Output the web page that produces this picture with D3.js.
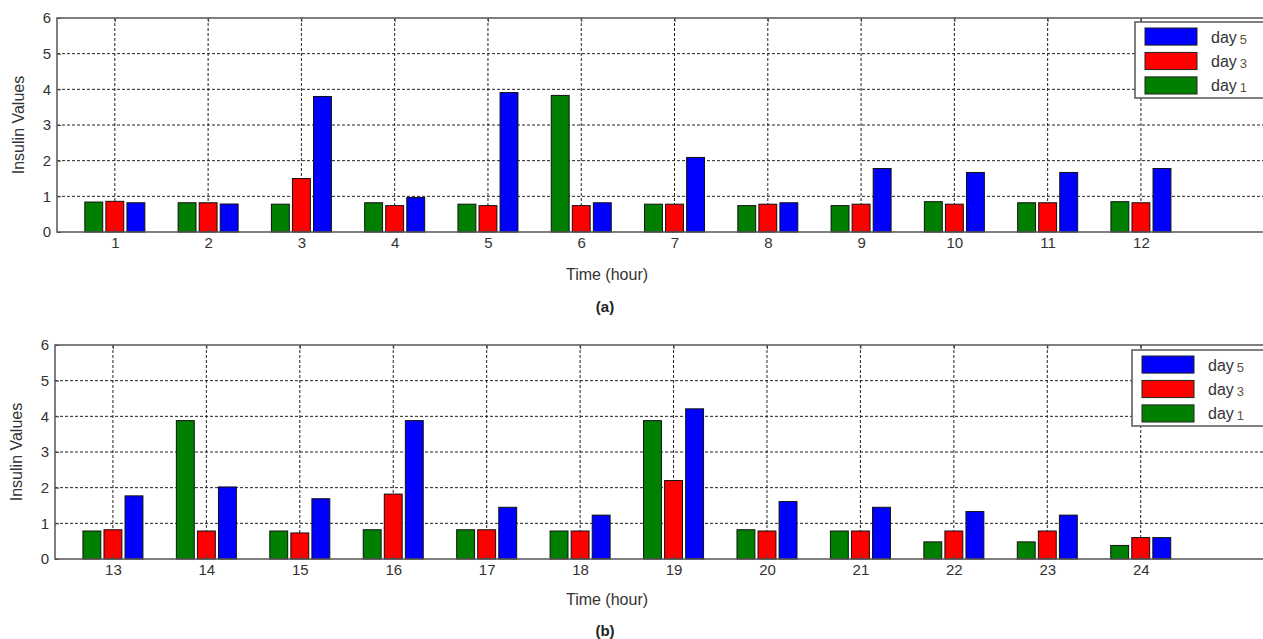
<!DOCTYPE html>
<html>
<head>
<meta charset="utf-8">
<script src="https://cdn.jsdelivr.net/npm/d3@7"></script>
<style>
body { margin: 0; background: #fff; }
svg { font-family: "Liberation Sans", Arial, sans-serif; }
</style>
</head>
<body>
<svg width="1263" height="639"></svg>
<script>
// insulin values
var hoursA = [1, 2, 3, 4, 5, 6, 7, 8, 9, 10, 11, 12];
var day1A = [0.84, 0.82, 0.78, 0.82, 0.78, 3.83, 0.78, 0.74, 0.74, 0.85, 0.82, 0.85];
var day3A = [0.86, 0.82, 1.50, 0.74, 0.74, 0.74, 0.78, 0.78, 0.78, 0.78, 0.82, 0.82];
var day5A = [0.82, 0.785, 3.80, 0.97, 3.91, 0.82, 2.09, 0.82, 1.78, 1.67, 1.67, 1.78];

var hoursB = [13, 14, 15, 16, 17, 18, 19, 20, 21, 22, 23, 24];
var day1B = [0.785, 3.88, 0.785, 0.82, 0.82, 0.785, 3.88, 0.82, 0.785, 0.48, 0.48, 0.38];
var day3B = [0.82, 0.785, 0.73, 1.82, 0.82, 0.785, 2.20, 0.785, 0.785, 0.785, 0.785, 0.60];
var day5B = [1.77, 2.02, 1.69, 3.88, 1.45, 1.23, 4.21, 1.61, 1.45, 1.33, 1.23, 0.60];

var yTicks = [0, 1, 2, 3, 4, 5, 6];
var seriesNames = ["day1", "day3", "day5"];
var seriesColors = {day1: "#007f00", day3: "#ff0000", day5: "#0000ff"};

var svg = d3.select("svg");

function panel(opt) {
  var hours = opt.hours;
  var x = d3.scaleLinear()
    .domain([hours[0] - 0.62, hours[0] + 12.33])
    .range([opt.left, 1265]);
  var y = d3.scaleLinear().domain([0, 6]).range([opt.bottom, opt.top]);
  var inner = d3.scaleBand().domain(seriesNames).range([-30, 30]).paddingInner(0.15);

  var g = svg.append("g");

  // grid
  g.selectAll(".hgrid")
    .data([1, 2, 3, 4, 5])
    .enter().append("line")
    .attr("x1", opt.left).attr("x2", 1265)
    .attr("y1", function (d) { return y(d); })
    .attr("y2", function (d) { return y(d); })
    .attr("stroke", "#222").attr("stroke-width", 1)
    .attr("stroke-dasharray", "3,2");
  g.selectAll(".vgrid")
    .data(hours)
    .enter().append("line")
    .attr("x1", function (d) { return x(d); })
    .attr("x2", function (d) { return x(d); })
    .attr("y1", opt.top).attr("y2", opt.bottom)
    .attr("stroke", "#222").attr("stroke-width", 1)
    .attr("stroke-dasharray", "3,2");

  // bars
  var rows = hours.map(function (h, i) {
    return {hour: h, day1: opt.d1[i], day3: opt.d3[i], day5: opt.d5[i]};
  });
  var grp = g.selectAll(".grp")
    .data(rows)
    .enter().append("g")
    .attr("transform", function (d) { return "translate(" + x(d.hour) + ",0)"; });
  grp.selectAll("rect")
    .data(function (d) { return seriesNames.map(function (k) { return {key: k, value: d[k]}; }); })
    .enter().append("rect")
    .attr("x", function (d) { return inner(d.key); })
    .attr("width", inner.bandwidth())
    .attr("y", function (d) { return y(d.value); })
    .attr("height", function (d) { return opt.bottom - y(d.value); })
    .attr("fill", function (d) { return seriesColors[d.key]; })
    .attr("stroke", "#111")
    .attr("stroke-width", 1);

  // axes
  var xa = g.append("g")
    .attr("transform", "translate(0," + opt.bottom + ")")
    .call(d3.axisBottom(x).tickValues(hours).tickFormat(d3.format("d")).tickSize(-4).tickPadding(5))
    .attr("font-family", null).attr("font-size", null);
  xa.select(".domain").remove();
  xa.selectAll("text").attr("font-size", "15px").attr("fill", "#333");
  xa.selectAll("line").attr("stroke", "#444");

  var xt = g.append("g")
    .attr("transform", "translate(0," + opt.top + ")")
    .call(d3.axisTop(x).tickValues(hours).tickFormat("").tickSize(-4));
  xt.select(".domain").remove();
  xt.selectAll("line").attr("stroke", "#444");

  var ya = g.append("g")
    .attr("transform", "translate(" + opt.left + ",0)")
    .call(d3.axisLeft(y).tickValues(yTicks).tickFormat(d3.format("d")).tickSize(-4).tickPadding(6))
    .attr("font-family", null).attr("font-size", null);
  ya.select(".domain").remove();
  ya.selectAll("text").attr("font-size", "15px").attr("fill", "#333");
  ya.selectAll("line").attr("stroke", "#444");

  // frame
  g.append("path")
    .attr("d", "M1265," + opt.top + "H" + opt.left + "V" + opt.bottom + "H1265")
    .attr("fill", "none").attr("stroke", "#555").attr("stroke-width", 1.5);

  // labels
  g.append("text")
    .attr("transform", "translate(" + (opt.left - 33) + "," + ((opt.top + opt.bottom) / 2) + ") rotate(-90)")
    .attr("text-anchor", "middle")
    .attr("font-size", "16px").attr("fill", "#333")
    .text("Insulin Values");
  g.append("text")
    .attr("x", 607).attr("y", opt.bottom + opt.xlabelDy)
    .attr("text-anchor", "middle")
    .attr("font-size", "16px").attr("fill", "#333")
    .text("Time (hour)");
  g.append("text")
    .attr("x", 605).attr("y", opt.bottom + opt.tagDy)
    .attr("text-anchor", "middle")
    .attr("font-size", "15px").attr("font-weight", "bold").attr("fill", "#222")
    .text(opt.tag);

  // legend
  var lg = g.append("g").attr("transform", "translate(" + opt.legX + "," + opt.legY + ")");
  lg.append("rect")
    .attr("x", 0).attr("y", 0).attr("width", 140).attr("height", 76)
    .attr("fill", "#fff").attr("stroke", "#555").attr("stroke-width", 1.5);
  var items = ["day5", "day3", "day1"];
  var ly = d3.scaleBand().domain(items).range([6, 72]).paddingInner(0.3);
  items.forEach(function (k) {
    lg.append("rect")
      .attr("x", 10).attr("y", ly(k)).attr("width", 52).attr("height", ly.bandwidth())
      .attr("fill", seriesColors[k]).attr("stroke", "#222").attr("stroke-width", 1);
    var t = lg.append("text")
      .attr("x", 76).attr("y", ly(k) + ly.bandwidth() / 2 + 6)
      .attr("font-size", "16px").attr("fill", "#333");
    t.append("tspan").text("day");
    t.append("tspan").attr("dx", 3).attr("dy", 1).attr("font-size", "13px").attr("fill", "#6a5240").text(k.slice(3));
  });
}

panel({hours: hoursA, d1: day1A, d3: day3A, d5: day5A, left: 57, top: 18, bottom: 232,
       xlabelDy: 48, tagDy: 80, tag: "(a)", legX: 1135, legY: 22});
panel({hours: hoursB, d1: day1B, d3: day3B, d5: day5B, left: 55, top: 345, bottom: 559,
       xlabelDy: 46, tagDy: 77, tag: "(b)", legX: 1132, legY: 350});
</script>
</body>
</html>
